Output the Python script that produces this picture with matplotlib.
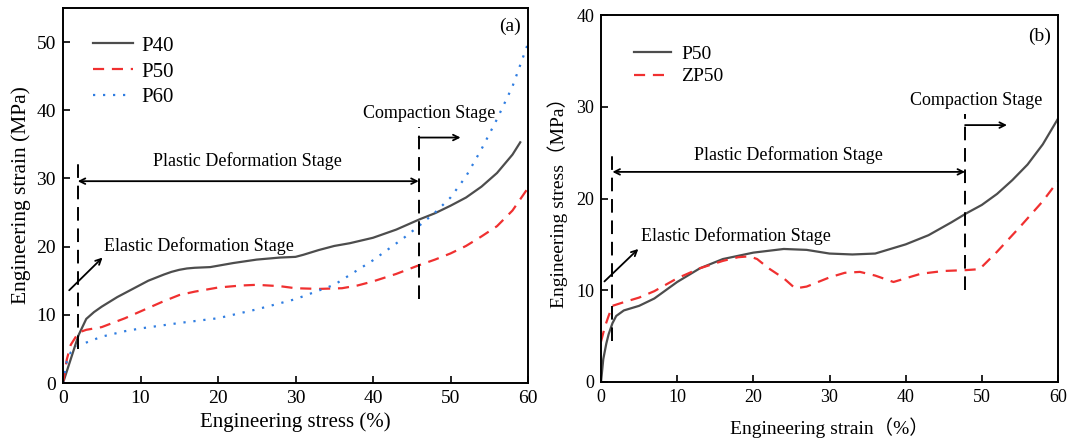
import numpy as np
import matplotlib
matplotlib.use("Agg")
import matplotlib.pyplot as plt

plt.rcParams['font.family'] = ['Liberation Serif', 'Noto Sans CJK SC', 'DejaVu Sans']

# ---------------- Panel (a) data ----------------
a_p40_x = [0, 1, 2, 3, 4, 5, 7, 9, 11, 13, 14, 15, 16, 17, 19, 22, 25, 28, 30, 31, 33, 35, 37, 40, 43, 46, 48, 50, 52, 54, 56, 58, 59]
a_p40_y = [0, 3.5, 7.0, 9.4, 10.4, 11.2, 12.6, 13.8, 15.0, 15.9, 16.3, 16.6, 16.8, 16.9, 17.0, 17.6, 18.1, 18.4, 18.5, 18.8, 19.5, 20.1, 20.5, 21.3, 22.5, 24.0, 24.9, 26.0, 27.2, 28.8, 30.8, 33.5, 35.3]

a_p50_x = [0, 0.5, 1, 2, 3, 5, 8, 10, 13, 15, 17, 20, 23, 25, 28, 30, 33, 36, 38, 40, 43, 46, 48, 50, 52, 54, 56, 58, 60]
a_p50_y = [0, 3.5, 5.6, 7.4, 7.8, 8.2, 9.5, 10.5, 12.0, 12.9, 13.4, 14.0, 14.3, 14.4, 14.2, 13.9, 13.8, 13.9, 14.3, 14.9, 16.0, 17.3, 18.1, 19.0, 20.1, 21.5, 23.0, 25.3, 28.6]

a_p60_x = [0, 0.5, 1, 2, 5, 8, 10, 15, 20, 25, 30, 35, 40, 44, 46, 48, 50, 52, 54, 56, 58, 60]
a_p60_y = [0, 3.2, 4.5, 5.5, 6.8, 7.6, 8.0, 8.8, 9.5, 10.8, 12.3, 14.4, 18.0, 21.3, 23.1, 25.0, 27.2, 30.3, 34.3, 38.7, 43.5, 49.8]

# ---------------- Panel (b) data ----------------
b_p50_x = [0, 0.3, 0.7, 1.0, 1.5, 2.0, 3.0, 5.0, 7.0, 10, 13, 16, 20, 24, 27, 30, 33, 36, 38, 40, 43, 46, 48, 50, 52, 54, 56, 58, 60]
b_p50_y = [0, 2.5, 4.2, 5.2, 6.4, 7.2, 7.8, 8.3, 9.1, 10.9, 12.4, 13.4, 14.1, 14.5, 14.4, 14.0, 13.9, 14.0, 14.5, 15.0, 16.0, 17.4, 18.4, 19.3, 20.5, 22.0, 23.7, 25.9, 28.7]

b_zp50_x = [0, 0.5, 1.0, 1.5, 3, 5, 7, 10, 13, 16, 18, 19.5, 20.5, 22, 24, 25.5, 27, 30, 32, 34, 36, 38.4, 40, 42, 45, 48, 49.7, 52, 55, 58, 60]
b_zp50_y = [4.4, 6.0, 7.2, 8.3, 8.7, 9.2, 9.9, 11.3, 12.4, 13.2, 13.6, 13.7, 13.4, 12.4, 11.3, 10.2, 10.4, 11.4, 11.9, 12.0, 11.6, 10.9, 11.3, 11.8, 12.1, 12.2, 12.3, 14.2, 16.9, 19.7, 21.9]

GRAY = '#4d4d4d'
RED = '#f03030'
BLUE = '#2f7de1'

fig = plt.figure(figsize=(10.67, 4.43), dpi=100)
axa = fig.add_axes([63/1067, 60/443, (528-63)/1067, (384-9)/443])
axb = fig.add_axes([601/1067, 61/443, (1058-601)/1067, (382-15)/443])

def style(ax, fs):
    ax.tick_params(direction='in', labelsize=fs, length=5, width=1.2, pad=5)
    for s in ax.spines.values():
        s.set_linewidth(1.4)

DASH = (0, (5, 3.5))
DOT = (0, (1, 3.5))

# ---- Panel a ----
axa.plot(a_p40_x, a_p40_y, color=GRAY, lw=1.6, label='P40')
axa.plot(a_p50_x, a_p50_y, color=RED, lw=1.6, ls=DASH, label='P50')
axa.plot(a_p60_x, a_p60_y, color=BLUE, lw=1.6, ls=DOT, label='P60')
axa.set_xlim(0, 60)
axa.set_ylim(0, 55)
axa.set_xticks([0, 10, 20, 30, 40, 50, 60])
axa.set_yticks([0, 10, 20, 30, 40, 50])
style(axa, 14)
axa.set_xlabel('Engineering stress (%)', fontsize=15, labelpad=4)
axa.set_ylabel('Engineering strain (MPa)', fontsize=15.5, labelpad=4)
axa.legend(loc='upper left', bbox_to_anchor=(0.025, 0.975), frameon=False, fontsize=15,
           handlelength=1.9, handletextpad=0.4, labelspacing=0.3)
axa.text(0.985, 0.975, '(a)', transform=axa.transAxes, ha='right', va='top', fontsize=14)

axa.plot([1.9, 1.9], [5.0, 32.3], color='k', lw=1.4, ls=(0, (7, 4)))
axa.plot([45.9, 45.9], [12.3, 37.5], color='k', lw=1.4, ls=(0, (7, 4)))
axa.annotate('', xy=(1.9, 29.6), xytext=(45.9, 29.6),
             arrowprops=dict(arrowstyle='<->', color='k', lw=1.3, shrinkA=0, shrinkB=0))
axa.text(23.8, 31.2, 'Plastic Deformation Stage', ha='center', va='bottom', fontsize=13)
axa.text(47.3, 38.3, 'Compaction Stage', ha='center', va='bottom', fontsize=13)
axa.annotate('', xy=(51.3, 36.0), xytext=(45.9, 36.0),
             arrowprops=dict(arrowstyle='->', color='k', lw=1.3, shrinkA=0, shrinkB=0))
axa.text(5.3, 20.1, 'Elastic Deformation Stage', ha='left', va='center', fontsize=13)
axa.annotate('', xy=(5.1, 18.4), xytext=(0.8, 13.6),
             arrowprops=dict(arrowstyle='->', color='k', lw=1.3, shrinkA=0, shrinkB=0))

# ---- Panel b ----
axb.plot(b_p50_x, b_p50_y, color=GRAY, lw=1.6, label='P50')
axb.plot(b_zp50_x, b_zp50_y, color=RED, lw=1.6, ls=DASH, label='ZP50')
axb.set_xlim(0, 60)
axb.set_ylim(0, 40)
axb.set_xticks([0, 10, 20, 30, 40, 50, 60])
axb.set_yticks([0, 10, 20, 30, 40])
style(axb, 13)
axb.set_xlabel('Engineering strain（%）', fontsize=14, labelpad=8)
axb.set_ylabel('Engineering stress（MPa）', fontsize=14, labelpad=6)
axb.legend(loc='upper left', bbox_to_anchor=(0.035, 0.965), frameon=False, fontsize=14,
           handlelength=1.9, handletextpad=0.5, labelspacing=0.25)
axb.text(0.985, 0.965, '(b)', transform=axb.transAxes, ha='right', va='top', fontsize=14)

axb.plot([1.5, 1.5], [4.45, 25.2], color='k', lw=1.4, ls=(0, (7, 4)))
axb.plot([47.8, 47.8], [10.0, 29.2], color='k', lw=1.4, ls=(0, (7, 4)))
axb.annotate('', xy=(1.5, 22.9), xytext=(47.8, 22.9),
             arrowprops=dict(arrowstyle='<->', color='k', lw=1.3, shrinkA=0, shrinkB=0))
axb.text(24.6, 23.8, 'Plastic Deformation Stage', ha='center', va='bottom', fontsize=13)
axb.text(49.3, 29.8, 'Compaction Stage', ha='center', va='bottom', fontsize=13)
axb.annotate('', xy=(53.3, 28.0), xytext=(47.8, 28.0),
             arrowprops=dict(arrowstyle='->', color='k', lw=1.3, shrinkA=0, shrinkB=0))
axb.text(5.2, 15.9, 'Elastic Deformation Stage', ha='left', va='center', fontsize=13)
axb.annotate('', xy=(4.9, 14.5), xytext=(0.45, 10.96),
             arrowprops=dict(arrowstyle='->', color='k', lw=1.3, shrinkA=0, shrinkB=0))

fig.savefig('out.png', dpi=100)
